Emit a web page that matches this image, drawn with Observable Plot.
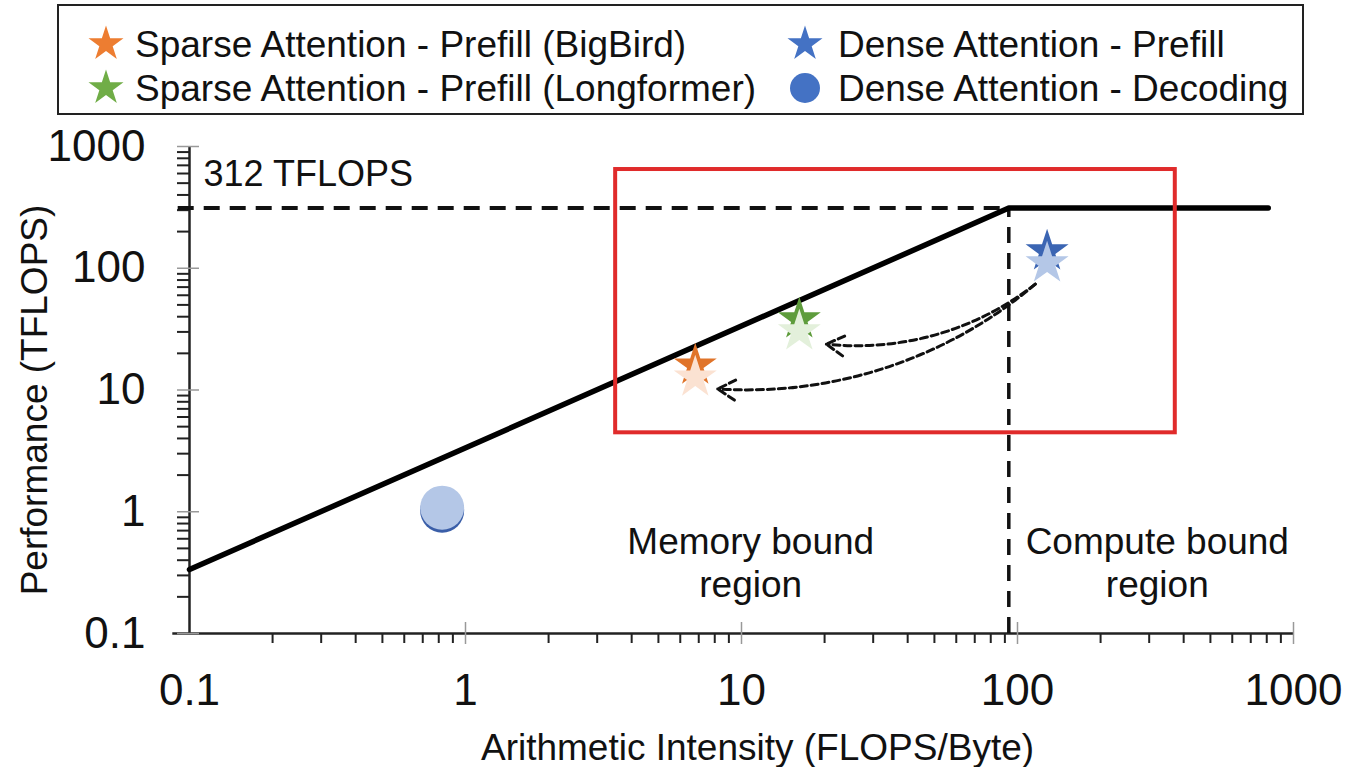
<!DOCTYPE html>
<html>
<head>
<meta charset="utf-8">
<script src="https://cdn.jsdelivr.net/npm/d3@7"></script>
<script src="https://cdn.jsdelivr.net/npm/@observablehq/plot@0.6"></script>
<style>
  body { margin: 0; background: #fff; font-family: "Liberation Sans", Arial, sans-serif; color: #111; }
  #page { position: relative; width: 1350px; height: 767px; overflow: hidden; }
  #legend { position: relative; width: 1350px; height: 120px; }
  #legend .box { position: absolute; left: 57px; top: 4px; width: 1243px; height: 107px; border: 2.5px solid #222; }
  #legend .lab { position: absolute; font-size: 37px; line-height: 1; transform: translateY(-50%); white-space: nowrap; }
  #legend svg { position: absolute; overflow: visible; }
</style>
</head>
<body>
<div id="page">
  <div id="legend"><div class="box"></div></div>
  <div id="chart"></div>
</div>
<script>
// ---- data ----
const seriesNames = ["Sparse Attention - Prefill (BigBird)", "Sparse Attention - Prefill (Longformer)", "Dense Attention - Prefill", "Dense Attention - Decoding"];
const seriesSymbols = ["star", "star", "star", "circle"];
const seriesColors = ["#ed7d31", "#70ad47", "#4472c4", "#4472c4"];
const seriesDark = ["#e0742a", "#5e9c3c", "#3b65b3", "#3a5ea8"];
const seriesLight = ["#fbe2d2", "#e3f0db", "#b4c7e7", "#b4c7e7"];
const intensity = [6.8, 16.2, 128, 0.823];      // FLOPS/Byte
const performance = [14.2, 34, 123, 1.08];      // TFLOPS

const roofX = [0.1, 93, 810];
const roofY = [0.335, 312, 312];
const peakLabel = "312 TFLOPS";
const peak = 312;
const ridge = 93;

const arrowFrom = [[116, 74], [116, 74]];
const arrowTo = [[20.3, 23.8], [8.2, 10.2]];

const boxX = [3.5, 373];
const boxY = [4.45, 647];

const regionText = ["Memory bound\nregion", "Compute bound\nregion"];
const regionX = [10.8, 321];
const regionY = [0.386, 0.386];

const majorTicks = [0.1, 1, 10, 100, 1000];
const majorLabels = ["0.1", "1", "10", "100", "1000"];
const minorTicks = [0.2,0.3,0.4,0.5,0.6,0.7,0.8,0.9, 2,3,4,5,6,7,8,9, 20,30,40,50,60,70,80,90, 200,300,400,500,600,700,800,900];
const xLabel = "Arithmetic Intensity (FLOPS/Byte)";
const yLabel = "Performance (TFLOPS)";

// ---- legend ----
const legend = document.getElementById("legend");
const legendPos = [[106, 135, 44], [106, 135, 88], [805, 838, 44], [805, 838, 88]];
seriesNames.forEach((name, i) => {
  const [mx, tx, cy] = legendPos[i];
  const svg = d3.select(legend).append("svg")
    .attr("width", 40).attr("height", 40)
    .style("left", (mx - 20) + "px").style("top", (cy - 20) + "px");
  const sym = seriesSymbols[i] === "star" ? d3.symbolStar : d3.symbolCircle;
  const size = seriesSymbols[i] === "star" ? 380 : Math.PI * 15 * 15;
  svg.append("path").attr("transform", "translate(20,20)")
    .attr("d", d3.symbol(sym, size)()).attr("fill", seriesColors[i]);
  const lab = document.createElement("div");
  lab.className = "lab"; lab.textContent = name;
  lab.style.left = tx + "px"; lab.style.top = cy + "px";
  legend.appendChild(lab);
});

// ---- chart ----
const pts = seriesNames.map((name, i) => ({name, x: intensity[i], y: performance[i], symbol: seriesSymbols[i], dark: seriesDark[i], light: seriesLight[i]}));
const stars = pts.filter(d => d.symbol === "star");
const circles = pts.filter(d => d.symbol === "circle");
const roof = roofX.map((x, i) => ({x, y: roofY[i]}));
const arrows = arrowFrom.map((f, i) => ({x1: f[0], y1: f[1], x2: arrowTo[i][0], y2: arrowTo[i][1]}));
const regions = regionText.map((t, i) => ({t, x: regionX[i], y: regionY[i]}));

const chart = Plot.plot({
  width: 1350,
  height: 647,
  marginTop: 26,
  marginBottom: 134,
  marginLeft: 189,
  marginRight: 57,
  x: {type: "log", domain: [0.1, 1000], axis: null},
  y: {type: "log", domain: [0.1, 1000], axis: null},
  style: {fontFamily: "'Liberation Sans', Arial, sans-serif", color: "#111", background: "#fff", overflow: "visible"},
  marks: [
    // axis lines
    Plot.ruleY([0.1], {x1: 0.087, x2: 1000, stroke: "#222", strokeWidth: 2.5}),
    Plot.ruleX([0.1], {y1: 0.1, y2: 1000, stroke: "#222", strokeWidth: 2.5}),
    // minor ticks
    Plot.axisX({ticks: minorTicks, tickSize: 10, tickFormat: () => "", strokeWidth: 2, stroke: "#222", label: null}),
    Plot.axisY({ticks: minorTicks, tickSize: 12, tickFormat: () => "", strokeWidth: 2, stroke: "#222", label: null}),
    // major ticks crossing the axis
    Plot.axisX({ticks: majorTicks.slice(1), tickSize: 22, dy: -11, tickFormat: () => "", stroke: "#999", strokeWidth: 1.5, label: null}),
    Plot.axisY({ticks: majorTicks, tickSize: 22, dx: 10, tickFormat: () => "", stroke: "#999", strokeWidth: 1.5, label: null}),
    // tick labels
    Plot.axisX({ticks: majorTicks, tickSize: 0, tickPadding: 40, fontSize: 44, tickFormat: d => majorLabels[majorTicks.indexOf(d)], label: null}),
    Plot.axisY({ticks: majorTicks, tickSize: 0, tickPadding: 44, fontSize: 44, tickFormat: d => majorLabels[majorTicks.indexOf(d)], label: null}),
    // axis titles
    Plot.text([xLabel], {frameAnchor: "bottom", dx: 16, dy: 115, fontSize: 37, lineAnchor: "middle"}),
    Plot.text([yLabel], {frameAnchor: "left", textAnchor: "middle", dx: -154, dy: 10, rotate: -90, fontSize: 37, lineAnchor: "middle"}),
    // dashed guide lines
    Plot.ruleY([peak], {x1: 0.091, x2: ridge, stroke: "#111", strokeWidth: 4, strokeDasharray: "16,10"}),
    Plot.ruleX([ridge], {y1: 0.1, y2: peak, stroke: "#111", strokeWidth: 3.5, strokeDasharray: "16,10"}),
    // roofline
    Plot.line(roof, {x: "x", y: "y", stroke: "#000", strokeWidth: 5.5}),
    Plot.text([peakLabel], {x: 0.1, y: peak, dx: 14, dy: -22, textAnchor: "start", lineAnchor: "bottom", fontSize: 36}),
    // region highlight box
    Plot.rect([{x1: boxX[0], x2: boxX[1], y1: boxY[0], y2: boxY[1]}], {x1: "x1", x2: "x2", y1: "y1", y2: "y2", fill: "none", stroke: "#e02b2b", strokeWidth: 4}),
    // region labels
    Plot.text(regions, {x: "x", y: "y", text: "t", fontSize: 37, lineHeight: 1.16, lineAnchor: "middle"}),
    // arrows
    Plot.arrow(arrows, {x1: "x1", y1: "y1", x2: "x2", y2: "y2", bend: 22, stroke: "#111", strokeWidth: 3, strokeDasharray: "7,4", headLength: 10}),
    // data points: darker copy behind, lighter copy in front
    Plot.dot(circles, {x: "x", y: "y", r: 22, fill: "dark", dy: 3}),
    Plot.dot(circles, {x: "x", y: "y", r: 22, fill: "light"}),
    Plot.dot(stars, {x: "x", y: "y", r: 13.5, symbol: "star", fill: "dark", dy: -6}),
    Plot.dot(stars, {x: "x", y: "y", r: 13.5, symbol: "star", fill: "light", dy: 6})
  ]
});
document.getElementById("chart").appendChild(chart);
</script>
</body>
</html>
